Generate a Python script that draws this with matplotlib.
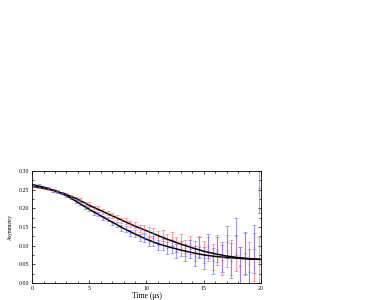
import matplotlib.pyplot as plt
from matplotlib.ticker import MultipleLocator

# data
tempo = [0.2, 0.6, 1.0, 1.4, 1.8, 2.2, 2.6, 3.0, 3.4, 3.8, 4.2, 4.6, 5.0, 5.4, 5.8, 6.2, 6.6, 7.0, 7.4, 7.8,
         8.2, 8.6, 9.0, 9.4, 9.8, 10.2, 10.6, 11.0, 11.4, 11.8, 12.2, 12.6, 13.0, 13.4, 13.8, 14.2, 14.6, 15.0,
         15.4, 15.8, 16.2, 16.6, 17.0, 17.4, 17.8, 18.2, 18.6, 19.0, 19.4, 19.8]
vermelho = [0.259, 0.257, 0.253, 0.252, 0.247, 0.247, 0.241, 0.238, 0.233, 0.226, 0.223, 0.214, 0.211, 0.202,
            0.200, 0.191, 0.188, 0.181, 0.176, 0.168, 0.165, 0.158, 0.155, 0.146, 0.145, 0.139, 0.134, 0.124,
            0.126, 0.114, 0.118, 0.103, 0.110, 0.094, 0.101, 0.085, 0.098, 0.083, 0.090, 0.070, 0.092, 0.062,
            0.085, 0.068, 0.080, 0.045, 0.078, 0.050, 0.070, 0.055]
azul = [0.262, 0.262, 0.256, 0.254, 0.248, 0.244, 0.240, 0.232, 0.228, 0.218, 0.214, 0.203, 0.199, 0.188,
        0.184, 0.174, 0.171, 0.160, 0.157, 0.147, 0.144, 0.135, 0.133, 0.122, 0.121, 0.110, 0.112, 0.101,
        0.104, 0.094, 0.098, 0.086, 0.092, 0.081, 0.090, 0.072, 0.095, 0.066, 0.100, 0.058, 0.085, 0.070,
        0.110, 0.060, 0.125, 0.045, 0.080, 0.030, 0.090, 0.255]
erro = [0.002, 0.002, 0.002, 0.002, 0.003, 0.003, 0.003, 0.003, 0.003, 0.004, 0.004, 0.004, 0.005, 0.005,
        0.005, 0.006, 0.006, 0.006, 0.007, 0.007, 0.008, 0.008, 0.009, 0.010, 0.011, 0.012, 0.013, 0.014,
        0.015, 0.016, 0.018, 0.019, 0.021, 0.022, 0.024, 0.026, 0.028, 0.030, 0.032, 0.035, 0.037, 0.040,
        0.043, 0.046, 0.049, 0.052, 0.056, 0.060, 0.064, 0.068]

tempo_fit = list(range(21))
fit_vermelho = [0.259, 0.254, 0.247, 0.237, 0.224, 0.208, 0.194, 0.180, 0.166, 0.152, 0.140, 0.127, 0.115,
                0.104, 0.094, 0.085, 0.078, 0.072, 0.068, 0.065, 0.063]
fit_azul = [0.263, 0.257, 0.247, 0.234, 0.216, 0.197, 0.180, 0.163, 0.146, 0.131, 0.117, 0.105, 0.096,
            0.088, 0.081, 0.075, 0.071, 0.068, 0.066, 0.064, 0.063]

plt.rcParams['font.family'] = ['Liberation Serif', 'DejaVu Serif']

fig = plt.figure(figsize=(3.82, 3.0), dpi=100)
ax = fig.add_axes([0.084, 0.057, 0.599, 0.373])

ax.errorbar(tempo, vermelho, yerr=erro, fmt='_', ms=2, color='#ff6a6a', alpha=0.65,
            elinewidth=0.8, capsize=1.5, capthick=0.6)
ax.errorbar(tempo, azul, yerr=erro, fmt='_', ms=2, color='#6a6aff', alpha=0.65,
            elinewidth=0.8, capsize=1.5, capthick=0.6)
ax.plot(tempo_fit, fit_vermelho, color='black', lw=1.1)
ax.plot(tempo_fit, fit_azul, color='black', lw=1.1)

ax.set_xlim(0, 20)
ax.set_ylim(0, 0.30)
ax.xaxis.set_major_locator(MultipleLocator(5))
ax.xaxis.set_minor_locator(MultipleLocator(1))
ax.yaxis.set_major_locator(MultipleLocator(0.05))
ax.yaxis.set_minor_locator(MultipleLocator(0.025))
ax.yaxis.set_major_formatter(plt.FormatStrFormatter('%.2f'))
ax.tick_params(which='both', direction='in', top=True, right=True, labelsize=4.2, pad=2)
ax.tick_params(which='major', length=2.5, width=0.5)
ax.tick_params(which='minor', length=1.3, width=0.5)
for s in ax.spines.values():
    s.set_linewidth(0.6)

ax.set_xlabel('Time (μs)', fontsize=5.5, labelpad=1)
ax.set_ylabel('Asymmetry', fontsize=4, labelpad=4)

fig.savefig('out.png', dpi=100)
